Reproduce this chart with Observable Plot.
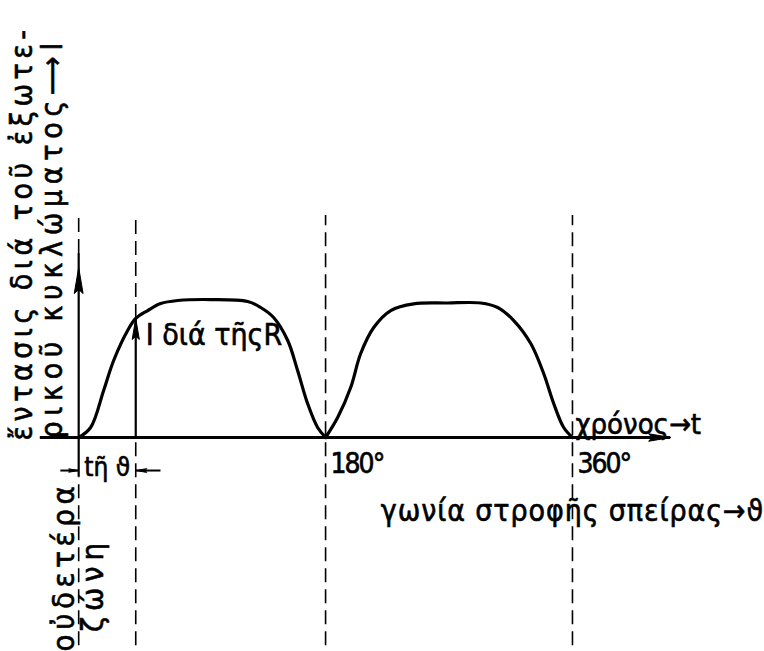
<!DOCTYPE html>
<html>
<head>
<meta charset="utf-8">
<script src="https://cdn.jsdelivr.net/npm/d3@7"></script>
<script src="https://cdn.jsdelivr.net/npm/@observablehq/plot@0.6"></script>
<style>
  html, body { margin: 0; padding: 0; background: #fff; }
  #chart svg { display: block; }
</style>
</head>
<body>
<div id="chart"></div>
<script>
// Current in the external circuit (relative to its level I) against the coil's rotation angle ϑ in degrees.
const angleFirst   = [0, 8.7, 18.2, 25.5, 35.7, 41.6, 50.3, 59.8, 72.2, 96.2, 123.2, 132.7, 142.1, 152.4, 159.6, 166.9, 174.2, 180];
const currentFirst = [0, 0.073, 0.343, 0.562, 0.781, 0.869, 0.927, 0.978, 1.0, 1.007, 0.993, 0.949, 0.876, 0.708, 0.489, 0.248, 0.073, 0];
const angleSecond   = [180, 188.8, 198.3, 205.6, 215.1, 227.5, 244.2, 269.0, 293.1, 305.5, 317.2, 329.6, 339.0, 346.3, 353.6, 360];
const currentSecond = [0, 0.146, 0.365, 0.613, 0.803, 0.927, 0.976, 0.982, 0.982, 0.949, 0.854, 0.686, 0.467, 0.248, 0.073, 0];

// Angle ticks and their labels
const tickAngles = [180, 360];
const tickLabels = ["180°", "360°"];

// Angle tϑ at which the current reaches its level I, and the extent of the guides
const onsetAngle = 41.6;
const onsetCurrent = 0.869;
const axisStart = -28;
const axisEnd = 431.6;
const guideTop = 1.62;
const guideBottom = -1.52;
const originSolidTop = 1.343;
const originSolidBottom = -0.29;
const yArrowTip = 1.241;
const spanLevel = -0.241;
const spanLeft = -13;
const spanRight = 60;

// Texts
const yTitleLines = ["ἔντασις διά τοῦ ἐξωτε-", "ρικοῦ κυκλώματος⟶I"];
const xTitle = "γωνία στροφῆς σπείρας→ϑ";
const timeTitle = "χρόνος→t";
const levelNote = "I διά τῆςR";
const spanNote = "tῆ ϑ";
const zoneLines = ["οὐδετέρα", "ζώνη"];

// Letter spacing (px) of the widely tracked lettering
const tracking = new Map([
  [yTitleLines[0], 4.5],
  [yTitleLines[1], 5.7],
  [xTitle, 0.9],
  [zoneLines[0], 4.6],
  [zoneLines[1], 5.8],
  [tickLabels[0], -2],
  [tickLabels[1], -2]
]);

const curve = [
  ...angleFirst.map((a, i) => ({angle: a, current: currentFirst[i], pulse: 1})),
  ...angleSecond.map((a, i) => ({angle: a, current: currentSecond[i], pulse: 2}))
];

const dashed = [
  ...tickAngles.map(a => ({angle: a, y1: guideBottom, y2: guideTop})),
  {angle: 0, y1: originSolidTop, y2: guideTop},
  {angle: 0, y1: guideBottom, y2: originSolidBottom},
  {angle: onsetAngle, y1: onsetCurrent, y2: guideTop},
  {angle: onsetAngle, y1: guideBottom, y2: 0}
];
const solid = [
  {angle: 0, y1: originSolidBottom, y2: originSolidTop},
  {angle: onsetAngle, y1: 0, y2: onsetCurrent}
];

// Narrow filled arrowhead, tip at the anchor point, pointing up before rotation
const arrowHead = {
  draw(context, size) {
    const len = Math.sqrt(size / Math.PI);
    const half = len * 0.17;
    context.moveTo(0, 0);
    context.lineTo(half, len);
    context.lineTo(0, len * 0.85);
    context.lineTo(-half, len);
    context.closePath();
  }
};
const heads = [
  {angle: axisEnd, current: 0, rotate: 90, r: 22},
  {angle: 0, current: yArrowTip, rotate: 0, r: 26},
  {angle: onsetAngle, current: onsetCurrent, rotate: 0, r: 21},
  {angle: 0, current: spanLevel, rotate: 90, r: 10},
  {angle: onsetAngle, current: spanLevel, rotate: -90, r: 11}
];

const font = "'Liberation Sans Narrow', 'DejaVu Sans Condensed', 'Liberation Sans', 'DejaVu Sans', sans-serif";
// Slightly heavier pen for the lettering
const ink = {fill: "#000", stroke: "#000", strokeWidth: 0.6};

const chart = Plot.plot({
  width: 764,
  height: 651,
  marginTop: 0,
  marginRight: 0,
  marginBottom: 0,
  marginLeft: 0,
  x: {domain: [-57, 500], axis: null},
  y: {domain: [-1.562, 3.19], axis: null},
  r: {type: "identity"},
  style: {background: "#fff", color: "#000", fontFamily: font},
  marks: [
    Plot.ruleX(dashed, {x: "angle", y1: "y1", y2: "y2", stroke: "#000", strokeWidth: 1.6, strokeDasharray: "14,7"}),
    Plot.ruleX(solid, {x: "angle", y1: "y1", y2: "y2", stroke: "#000", strokeWidth: 2.2}),
    Plot.ruleY([0], {x1: axisStart, x2: axisEnd, stroke: "#000", strokeWidth: 3}),
    Plot.ruleY([spanLevel], {x1: spanLeft, x2: 0, stroke: "#000", strokeWidth: 2}),
    Plot.ruleY([spanLevel], {x1: onsetAngle, x2: spanRight, stroke: "#000", strokeWidth: 2}),
    Plot.line(curve, {x: "angle", y: "current", z: "pulse", curve: "catmull-rom", stroke: "#000", strokeWidth: 3.2}),
    Plot.dot(heads, {x: "angle", y: "current", r: "r", rotate: "rotate", symbol: arrowHead, fill: "#000", stroke: "#000", strokeWidth: 1}),
    Plot.text(tickAngles, {x: d => d, y: 0, text: (d, i) => tickLabels[i], textAnchor: "start", lineAnchor: "top", dx: 5, dy: 16, fontSize: 28, ...ink}),
    Plot.text([timeTitle], {x: tickAngles[1], y: 0, text: d => d, textAnchor: "start", lineAnchor: "bottom", dx: 3, dy: -4, fontSize: 29, ...ink}),
    Plot.text([xTitle], {x: tickAngles[1], y: -0.54, text: d => d, textAnchor: "middle", lineAnchor: "middle", fontSize: 30, ...ink}),
    Plot.text([levelNote], {x: onsetAngle, y: 0.745, text: d => d, textAnchor: "start", lineAnchor: "middle", dx: 10, fontSize: 30, ...ink}),
    Plot.text([spanNote], {x: onsetAngle / 2, y: -0.22, text: d => d, textAnchor: "middle", lineAnchor: "middle", fontSize: 26, ...ink}),
    Plot.text([yTitleLines[0]], {x: -40.8, y: -0.022, text: d => d, rotate: -90, textAnchor: "start", lineAnchor: "middle", fontSize: 30, ...ink}),
    Plot.text([yTitleLines[1]], {x: -19, y: -0.008, text: d => d, rotate: -90, textAnchor: "start", lineAnchor: "middle", fontSize: 30, ...ink}),
    Plot.text([zoneLines[0]], {x: -11, y: -1.562, text: d => d, rotate: -90, textAnchor: "start", lineAnchor: "middle", fontSize: 31, ...ink}),
    Plot.text([zoneLines[1]], {x: 10.2, y: -1.42, text: d => d, rotate: -90, textAnchor: "start", lineAnchor: "middle", fontSize: 31, ...ink})
  ]
});

// Apply the lettering's tracking
d3.select(chart).selectAll("text").each(function () {
  const spacing = tracking.get(this.textContent);
  if (spacing !== undefined) this.style.letterSpacing = `${spacing}px`;
});

document.getElementById("chart").append(chart);
</script>
</body>
</html>
